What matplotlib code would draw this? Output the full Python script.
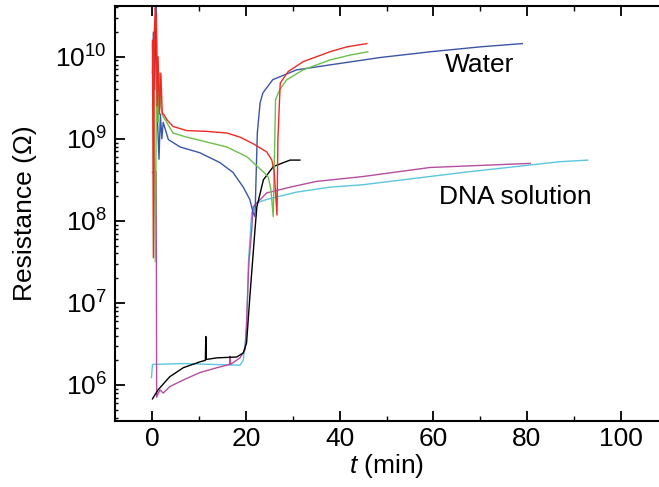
import numpy as np
import matplotlib
matplotlib.use('Agg')
import matplotlib.pyplot as plt
from matplotlib.ticker import LogLocator, NullFormatter, MultipleLocator

plt.rcParams['font.family'] = ['Liberation Sans', 'DejaVu Sans']
plt.rcParams['mathtext.fontset'] = 'custom'
plt.rcParams['mathtext.rm'] = 'Liberation Sans'
plt.rcParams['mathtext.it'] = 'Liberation Sans:italic'

# time (min) and log10(resistance / Ohm)
red_t = [0.0, 0.2, 0.4, 0.6, 0.8, 1.0, 1.2, 1.5, 1.8, 2.1, 2.4, 3.1, 4.4, 7.3, 11.6, 15.9, 18.7,
         21.5, 24.4, 25.5, 26.0, 26.6, 26.8, 27.3, 29.0, 32.2, 37.9, 41.5, 45.8]
red_r = [10.2, 7.55, 10.3, 10.6, 10.5, 9.4, 10.0, 9.3, 9.8, 9.3, 9.3, 9.23, 9.15, 9.10, 9.09, 9.07, 9.02,
         8.94, 8.84, 8.74, 8.60, 8.07, 9.00, 9.68, 9.82, 9.94, 10.06, 10.12, 10.16]

green_t = [0.0, 0.3, 0.6, 0.9, 1.2, 1.5, 1.8, 2.3, 4.4, 7.3, 11.6, 15.9, 20.2, 23.6, 24.7, 25.3,
           25.8, 26.3, 27.2, 28.7, 32.2, 37.9, 42.2, 46.0]
green_r = [10.15, 9.5, 7.5, 10.0, 9.2, 9.8, 9.4, 9.27, 9.07, 9.02, 8.96, 8.90, 8.78, 8.60, 8.54, 8.38,
           8.05, 9.48, 9.60, 9.72, 9.84, 9.96, 10.02, 10.06]

blue_t = [0.0, 0.2, 0.5, 0.8, 1.1, 1.4, 1.7, 2.0, 2.3, 3.4, 5.9, 10.1, 14.4, 17.2, 19.4, 20.8,
          21.5, 21.9, 22.4, 23.0, 23.6, 25.7, 30.8, 37.9, 48.6, 59.3, 70.0, 79.0]
blue_r = [9.8, 10.3, 9.6, 10.7, 9.2, 8.75, 9.3, 9.0, 9.2, 8.99, 8.90, 8.83, 8.71, 8.59, 8.41, 8.26,
          8.10, 8.05, 9.07, 9.44, 9.56, 9.72, 9.84, 9.90, 9.99, 10.06, 10.12, 10.16]

black_t = [0.0, 1.2, 3.7, 6.6, 10.1, 11.3, 11.4, 11.5, 13.8, 18.0, 19.4, 20.1, 20.8, 21.9, 22.3,
           23.7, 25.8, 28.0, 29.4, 31.5]
black_r = [5.83, 5.94, 6.10, 6.21, 6.28, 6.30, 6.59, 6.31, 6.33, 6.34, 6.39, 6.51, 7.07, 7.89, 8.17,
           8.50, 8.66, 8.71, 8.74, 8.74]

magenta_t = [0.0, 0.8, 0.9, 1.6, 2.3, 3.7, 6.6, 10.1, 13.8, 16.5, 16.6, 16.7, 17.2, 18.7, 19.8,
             20.1, 20.6, 21.2, 21.5, 24.4, 29.4, 35.0, 45.0, 59.3, 80.7]
magenta_r = [8.59, 8.60, 5.85, 5.94, 5.90, 5.98, 6.06, 6.15, 6.21, 6.25, 6.35, 6.25, 6.27, 6.33, 6.43,
             6.76, 7.49, 7.89, 8.17, 8.34, 8.41, 8.48, 8.54, 8.65, 8.70]

cyan_t = [-0.2, 0.0, 6.6, 18.7, 19.4, 20.1, 20.5, 21.2, 22.3, 24.4, 30.8, 37.9, 45.0, 66.4, 87.0, 93.0]
cyan_r = [6.09, 6.25, 6.26, 6.24, 6.30, 6.67, 7.49, 8.10, 8.22, 8.26, 8.35, 8.41, 8.44, 8.59, 8.72, 8.74]

series = [
    (cyan_t, cyan_r, '#5cc6de'),
    (magenta_t, magenta_r, '#b64da0'),
    (black_t, black_r, 'black'),
    (blue_t, blue_r, '#3b55a6'),
    (green_t, green_r, '#6cc04a'),
    (red_t, red_r, '#ee2a24'),
]

fig = plt.figure(figsize=(6.59, 4.87), dpi=100)
ax = fig.add_axes([0.1745, 0.1355, 0.8255, 0.8525])

for t, r, c in series:
    ax.plot(t, 10 ** np.array(r), color=c, linewidth=1.0)

ax.set_yscale('log')
ax.set_xlim(-8, 108.2)
ax.set_ylim(10 ** 5.56, 10 ** 10.62)

ax.xaxis.set_major_locator(MultipleLocator(20))
ax.xaxis.set_minor_locator(MultipleLocator(10))
ax.yaxis.set_major_locator(LogLocator(base=10, numticks=10))
ax.yaxis.set_minor_locator(LogLocator(base=10, subs=np.arange(2, 10), numticks=20))
ax.yaxis.set_minor_formatter(NullFormatter())

ax.tick_params(which='both', direction='in', top=True, right=False, labelsize=19)
ax.tick_params(which='major', length=7, width=1.3)
ax.tick_params(which='minor', length=3.5, width=1.0)
ax.tick_params(axis='y', which='minor', length=2)
ax.tick_params(axis='x', pad=4)
ax.tick_params(axis='y', pad=6)
for side in ['left', 'bottom', 'top']:
    ax.spines[side].set_linewidth(1.5)
ax.spines['right'].set_visible(False)

ax.set_xlabel(r'$\mathit{t}$ (min)', fontsize=19, labelpad=1)
ax.set_ylabel('Resistance (Ω)', fontsize=19, labelpad=13)

ax.text(69.8, 10 ** 9.90, 'Water', fontsize=19, ha='center', va='center')
ax.text(61.2, 10 ** 8.29, 'DNA solution', fontsize=19, ha='left', va='center')

fig.savefig('out.png', dpi=100)
